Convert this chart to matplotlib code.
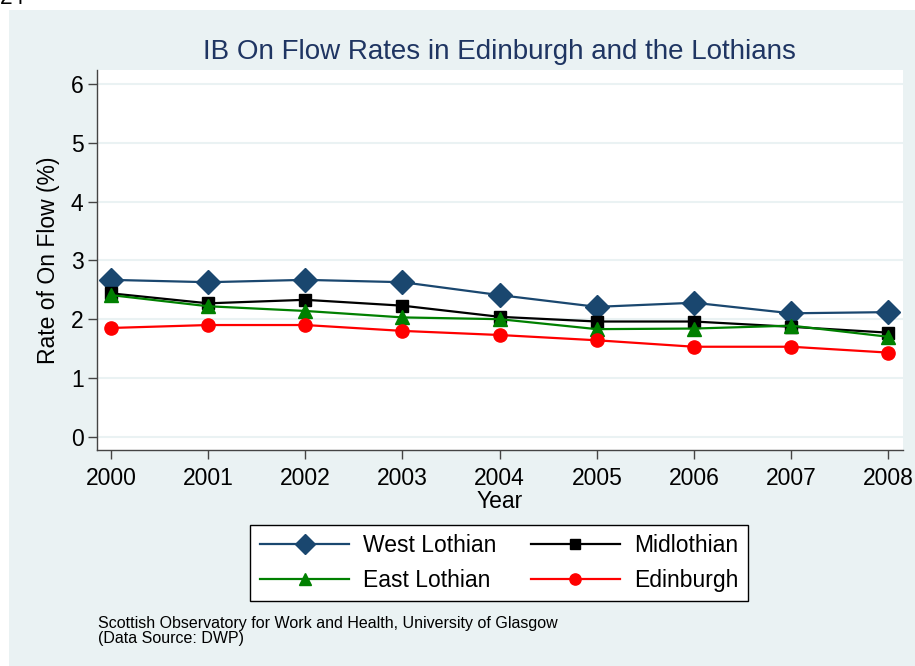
import matplotlib
matplotlib.use("Agg")
import matplotlib.pyplot as plt
from matplotlib.patches import Rectangle

plt.rcParams['font.family'] = ['Liberation Sans', 'DejaVu Sans']

# Data
years = [2000, 2001, 2002, 2003, 2004, 2005, 2006, 2007, 2008]
west_lothian = [2.67, 2.63, 2.67, 2.63, 2.41, 2.21, 2.28, 2.10, 2.12]
midlothian = [2.44, 2.27, 2.33, 2.23, 2.04, 1.96, 1.96, 1.87, 1.77]
east_lothian = [2.41, 2.22, 2.14, 2.03, 2.00, 1.83, 1.84, 1.89, 1.70]
edinburgh = [1.85, 1.90, 1.90, 1.80, 1.73, 1.64, 1.53, 1.53, 1.43]
y_ticks = [0, 1, 2, 3, 4, 5, 6]

bg = '#EAF2F3'
navy = '#1A476F'

W, H = 915, 666
fig = plt.figure(figsize=(W / 100, H / 100), dpi=100)
fig.patch.set_facecolor('white')
fig.patches.append(Rectangle((9 / W, 0), 1 - 9 / W, 1 - 10 / H,
                             transform=fig.transFigure, facecolor=bg,
                             edgecolor='none', zorder=-10))

# page number, cut off at the top in the original
fig.text(0.0, 1 - 4 / H, '24', fontsize=16.5, va='baseline', ha='left')

ax = fig.add_axes([96.7 / W, 1 - 450 / H, (903 - 96.7) / W, (450 - 70) / H])
ax.set_facecolor('white')

ax.plot(years, west_lothian, color=navy, lw=1.6, marker='D', ms=12, label='West Lothian')
ax.plot(years, midlothian, color='black', lw=1.6, marker='s', ms=9, label='Midlothian')
ax.plot(years, east_lothian, color='#008000', lw=1.6, marker='^', ms=10, label='East Lothian')
ax.plot(years, edinburgh, color='#FF0000', lw=1.6, marker='o', ms=9.5, label='Edinburgh')

ax.set_xlim(1999.853, 2008.151)
ax.set_ylim(-0.23, 6.247)
ax.set_xticks(years)
ax.set_yticks(y_ticks)
ax.grid(axis='y', color=bg, lw=1.5)
ax.set_axisbelow(True)

for s in ['top', 'right']:
    ax.spines[s].set_visible(False)
for s in ['left', 'bottom']:
    ax.spines[s].set_color('#444444')
    ax.spines[s].set_linewidth(1)

ax.tick_params(axis='both', length=6.5, width=1, color='#444444', labelsize=16.5)
ax.tick_params(axis='x', pad=6)
ax.tick_params(axis='y', pad=3)

ax.set_title('IB On Flow Rates in Edinburgh and the Lothians', color='#1F3562',
             fontsize=20, pad=8)
ax.set_xlabel('Year', fontsize=16.5, labelpad=-0.5)
ax.set_ylabel('Rate of On Flow (%)', fontsize=16.5, labelpad=8)

h, l = ax.get_legend_handles_labels()
order = [0, 2, 1, 3]
leg = fig.legend([h[i] for i in order], [l[i] for i in order], ncol=2,
                 loc='center', bbox_to_anchor=(499 / W, 1 - 563 / H),
                 fontsize=16.5, frameon=True, fancybox=False, framealpha=1,
                 edgecolor='black', handlelength=3.9, handletextpad=0.6,
                 columnspacing=1.5, borderpad=0.42, labelspacing=0.5,
                 markerscale=0.85)
leg.get_frame().set_linewidth(1)

fig.text(98 / W, 1 - 631 / H,
         'Scottish Observatory for Work and Health, University of Glasgow\n(Data Source: DWP)',
         fontsize=11.5, va='center', ha='left', linespacing=0.95)

fig.savefig('out.png', dpi=100)
